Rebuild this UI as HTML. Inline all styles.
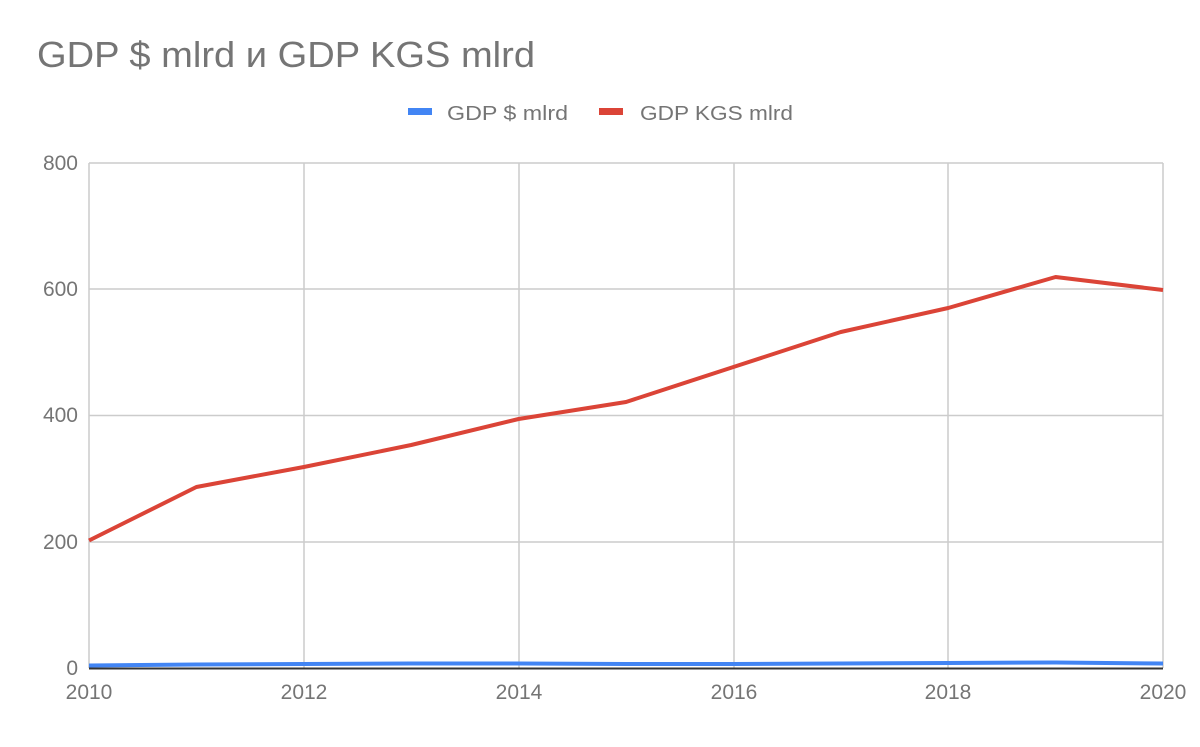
<!DOCTYPE html>
<html><head><meta charset="utf-8"><style>
body{margin:0;background:#fff;width:1200px;height:742px;overflow:hidden;font-family:"Liberation Sans",Arial,sans-serif}
</style></head><body>
<svg width="1200" height="742" xmlns="http://www.w3.org/2000/svg" font-family="Liberation Sans, Arial, sans-serif">
<text x="37" y="67" font-size="36" fill="#757575" textLength="498" lengthAdjust="spacingAndGlyphs">GDP $ mlrd и GDP KGS mlrd</text>
<rect x="408" y="108" width="24" height="7" fill="#4285f4"/>
<text x="447" y="120" font-size="20" fill="#757575" textLength="121" lengthAdjust="spacingAndGlyphs">GDP $ mlrd</text>
<rect x="599" y="108" width="24" height="7" fill="#db4437"/>
<text x="640" y="120" font-size="20" fill="#757575" textLength="153" lengthAdjust="spacingAndGlyphs">GDP KGS mlrd</text>
<g stroke="#cccccc" stroke-width="1.5" fill="none">
<line x1="89" y1="163" x2="1163" y2="163"/>
<line x1="89" y1="289" x2="1163" y2="289"/>
<line x1="89" y1="415.5" x2="1163" y2="415.5"/>
<line x1="89" y1="542" x2="1163" y2="542"/>
<line x1="89" y1="163" x2="89" y2="668"/>
<line x1="304" y1="163" x2="304" y2="668"/>
<line x1="519" y1="163" x2="519" y2="668"/>
<line x1="734" y1="163" x2="734" y2="668"/>
<line x1="948" y1="163" x2="948" y2="668"/>
<line x1="1163" y1="163" x2="1163" y2="668"/>
</g>
<line x1="89" y1="668.5" x2="1163" y2="668.5" stroke="#333" stroke-width="2"/>
<g font-size="21" fill="#757575" text-anchor="end">
<text x="78" y="170">800</text>
<text x="78" y="296">600</text>
<text x="78" y="422">400</text>
<text x="78" y="549">200</text>
<text x="78" y="675">0</text>
</g>
<g font-size="21" fill="#757575" text-anchor="middle">
<text x="89" y="699">2010</text>
<text x="304" y="699">2012</text>
<text x="519" y="699">2014</text>
<text x="734" y="699">2016</text>
<text x="948" y="699">2018</text>
<text x="1163" y="699">2020</text>
</g>
<polyline fill="none" stroke="#db4437" stroke-width="4" stroke-linejoin="round" points="89,540.5 196.4,487 303.8,467 411.2,445 518.6,419 626,402 733.4,367 840.8,332 948.2,308 1055.6,277 1163,290"/>
<polyline fill="none" stroke="#4285f4" stroke-width="4" stroke-linejoin="round" points="89,665.5 196.4,664.5 303.8,664 411.2,663.5 518.6,663.5 626,664 733.4,664 840.8,663.5 948.2,663 1055.6,662.5 1163,663.5"/>
</svg>
</body></html>
